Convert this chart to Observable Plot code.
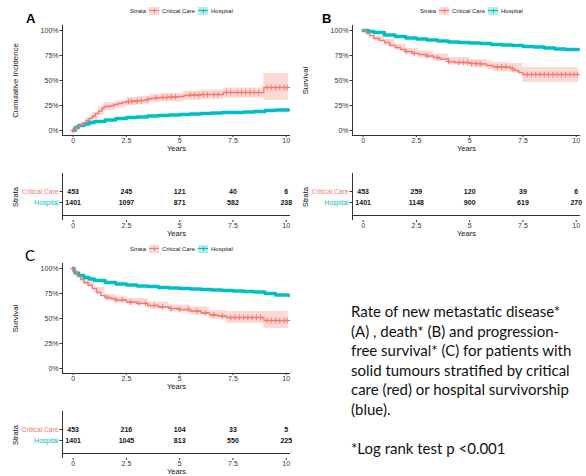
<!DOCTYPE html>
<html><head><meta charset="utf-8">
<script src="https://cdn.jsdelivr.net/npm/d3@7"></script>
<script src="https://cdn.jsdelivr.net/npm/@observablehq/plot@0.6"></script>
<style>
body{margin:0;background:#fff;}
#root{position:relative;width:586px;height:476px;overflow:hidden;font-family:"Liberation Sans",Arial,sans-serif;background:#fff;}
.abs{position:absolute;}
.abs svg{display:block;}
.legend{position:absolute;display:flex;align-items:center;font-size:6px;color:#222;white-space:nowrap;height:9px;}
.sw{display:inline-block;width:10px;height:8px;position:relative;margin:0 3px 0 3px;}
.sw::before{content:"";position:absolute;left:0;right:0;top:3.4px;height:1.2px;background:var(--c);}
.sw::after{content:"";position:absolute;left:4.5px;top:2px;width:1px;height:4px;background:var(--c);}
.letter{position:absolute;font-weight:bold;font-size:13px;line-height:1;}
.letterC{position:absolute;font-family:Lato;font-size:15px;line-height:1;}
.note{position:absolute;left:351px;top:302px;font-family:Lato;font-size:15px;line-height:19.6px;color:#111;white-space:nowrap;}
</style></head>
<body>
<div id="root">
  <div class="abs" id="pA" style="left:0;top:0"></div>
  <div class="abs" id="pB" style="left:290px;top:0"></div>
  <div class="abs" id="tA" style="left:0;top:160px"></div>
  <div class="abs" id="tB" style="left:290px;top:160px"></div>
  <div class="abs" id="pC" style="left:0;top:238px"></div>
  <div class="abs" id="tC" style="left:0;top:398px"></div>
  <div class="letter" style="left:26px;top:12px">A</div>
  <div class="letter" style="left:322px;top:12px">B</div>
  <div class="letterC" style="left:25px;top:248px">C</div>
  <div class="legend" style="left:130px;top:6px">Strata<span class="sw" style="--c:#F8766D;background:rgba(248,118,109,.3)"></span>Critical Care<span class="sw" style="--c:#00BFC4;background:rgba(0,191,196,.3)"></span>Hospital</div>
  <div class="legend" style="left:420px;top:6px">Strata<span class="sw" style="--c:#F8766D;background:rgba(248,118,109,.3)"></span>Critical Care<span class="sw" style="--c:#00BFC4;background:rgba(0,191,196,.3)"></span>Hospital</div>
  <div class="legend" style="left:130px;top:244px">Strata<span class="sw" style="--c:#F8766D;background:rgba(248,118,109,.3)"></span>Critical Care<span class="sw" style="--c:#00BFC4;background:rgba(0,191,196,.3)"></span>Hospital</div>
  <div class="note">Rate of new metastatic disease*<br>(A) , death* (B) and progression-<br>free survival* (C) for patients with<br>solid tumours stratified by critical<br>care (red) or hospital survivorship<br>(blue).<br><br>*Log rank test p &lt;0.001</div>
</div>
<script>
// ---------- data ----------
const strata = ["Critical Care", "Hospital"];
const strataColors = ["#F8766D", "#00BFC4"];
const yearTicks = [0, 2.5, 5, 7.5, 10];
const pctTicks = [0, 25, 50, 75, 100];

// Panel A: cumulative incidence of new metastatic disease (%)
const aCC_t = [0, 0.1, 0.2, 0.3, 0.45, 0.6, 0.75, 0.9, 1.05, 1.2, 1.35, 1.45, 1.7, 1.9, 2.1, 2.3, 2.5, 2.8, 3.1, 3.4, 3.6, 3.8, 4.1, 4.5, 4.9, 5.2, 5.5, 6.0, 6.4, 7.05, 8.95, 10.1];
const aCC_v = [0, 2, 4, 5.5, 7.5, 10, 12, 14.5, 17, 19.5, 22, 24, 24.5, 26, 27, 28, 29, 29.5, 30, 31, 32, 32.5, 33, 33.5, 34, 35, 35.5, 36, 36, 38, 43, 43];
const aBand_t = [0, 0.3, 0.6, 0.9, 1.2, 1.45, 2.0, 2.5, 3.0, 3.6, 4.1, 5.2, 6.0, 7.05, 8.95, 10.1];
const aBand_lo = [0, 3, 7, 11, 15, 20, 22.5, 25, 26, 28, 28.5, 30, 31, 32.5, 30, 30];
const aBand_hi = [0, 8, 13, 18, 24, 28, 29.5, 33, 34, 36, 37, 39.5, 40.5, 42.5, 57, 57];
const aH_t = [0, 0.1, 0.25, 0.5, 0.75, 1, 1.5, 2, 2.5, 3, 3.5, 4, 4.5, 5, 5.5, 6, 6.5, 7, 7.5, 8, 8.5, 9, 9.5, 10.1];
const aH_v = [0, 3, 5, 6.5, 8, 9, 10.5, 12, 13, 13.5, 14.5, 15, 15.5, 16, 16.5, 17, 17.5, 18, 18, 18.5, 19, 20, 20.5, 20.5];
const aCens = [0, 2.6, 2.75, 3.0, 3.2, 3.5, 3.9, 4.2, 4.4, 4.6, 4.8, 5.5, 5.7, 5.9, 6.1, 6.3, 6.6, 6.8, 7.2, 7.4, 7.7, 7.9, 8.1, 8.3, 8.5, 8.7, 9.1, 9.3, 9.5, 9.7, 9.9, 10.05];
const aRiskCC = [453, 245, 121, 40, 6];
const aRiskH = [1401, 1097, 871, 582, 238];

// Panel B: overall survival (%)
const bCC_t = [0, 0.15, 0.3, 0.5, 0.75, 1, 1.25, 1.5, 1.75, 2, 2.3, 2.6, 3, 3.3, 3.6, 4, 4.3, 5, 5.5, 5.8, 6.1, 6.9, 7.1, 7.3, 7.5, 10.1];
const bCC_v = [100, 97, 95, 92, 90, 88, 85, 83, 81, 79, 77, 76, 74.5, 73, 71.5, 69, 68, 67, 66.5, 65, 63.5, 62, 60, 58, 56, 56];
const bBand_t = [0, 0.5, 1, 1.5, 2, 2.6, 3.3, 4, 5, 5.8, 6.1, 6.9, 7.5, 10.1];
const bBand_lo = [100, 89.5, 85, 80, 76, 72.5, 69.5, 65.5, 63, 61, 59, 57.5, 48, 48];
const bBand_hi = [100, 94.5, 91, 86, 82, 79.5, 76.5, 73, 71, 69.5, 68, 67, 63, 63];
const bH_t = [0, 0.25, 0.5, 1, 1.5, 2, 2.5, 3, 3.5, 4, 4.5, 5, 5.5, 6, 6.5, 7, 7.5, 8, 8.5, 9, 9.5, 10.1];
const bH_v = [100, 99, 98, 95.5, 94, 92.5, 91.5, 90.5, 89.5, 88.5, 88, 87.5, 87, 86, 85.5, 85, 84, 83.5, 82.5, 81.5, 81, 81];
const bCens = [2.0, 2.4, 3.0, 3.5, 4.0, 4.5, 4.7, 4.9, 5.1, 5.3, 5.5, 6.3, 6.5, 6.7, 7.0, 7.7, 7.9, 8.1, 8.3, 8.5, 8.7, 8.9, 9.1, 9.3, 9.5, 9.7, 9.9, 10.05];
const bRiskCC = [453, 259, 120, 39, 6];
const bRiskH = [1401, 1148, 900, 619, 270];

// Panel C: progression-free survival (%)
const cCC_t = [0, 0.1, 0.2, 0.35, 0.5, 0.7, 0.9, 1.1, 1.3, 1.5, 1.75, 2, 2.5, 3, 3.5, 4, 4.5, 5, 5.5, 6, 6.4, 6.8, 7.2, 8.95, 10.1];
const cCC_v = [100, 96, 92, 89, 86, 83, 80, 76, 73, 71, 70, 68.5, 66.5, 65, 63, 61.5, 60, 59, 57.5, 55.5, 53.5, 52.5, 51, 48, 48];
const cBand_t = [0, 0.5, 1, 1.5, 2, 2.5, 3.5, 4.5, 5.5, 6.4, 7.2, 8.95, 10.1];
const cBand_lo = [100, 83, 75, 68, 66, 63.5, 59.5, 56.5, 53.5, 49.5, 45, 40, 40];
const cBand_hi = [100, 89, 81, 74, 71.5, 70, 66.5, 63.5, 61.5, 58, 57, 57, 57];
const cH_t = [0, 0.05, 0.1, 0.25, 0.5, 0.75, 1, 1.5, 2, 2.5, 3, 3.5, 4, 4.5, 5, 5.5, 6, 6.5, 7, 7.5, 8, 8.5, 9, 9.5, 10.1];
const cH_v = [100, 97, 95.5, 93, 91, 89.5, 88, 86, 84.5, 83.5, 82.5, 82, 81, 80.5, 80, 79.5, 79, 78.5, 78, 77.5, 77, 76.5, 75, 73.5, 73];
const cCens = [0, 1.6, 2.0, 2.3, 2.7, 3.1, 3.4, 3.8, 4.2, 4.6, 5.0, 5.4, 5.8, 6.2, 6.6, 7.0, 7.4, 7.6, 7.8, 8.0, 8.2, 8.4, 8.6, 8.8, 9.1, 9.3, 9.5, 9.7, 9.9, 10.05];
const cRiskCC = [453, 216, 104, 33, 5];
const cRiskH = [1401, 1045, 813, 550, 225];

// ---------- helpers ----------
const RED = strataColors[0], TEAL = strataColors[1];
const FONT = "'Liberation Sans', Arial, sans-serif";
const X_DOMAIN = [-0.5, 10.2];
const Y_DOMAIN = [-5, 105];
const zip = (t, v) => t.map((x, i) => ({t: x, v: v[i]}));
const band = (t, lo, hi) => t.map((x, i) => ({t: x, lo: lo[i], hi: hi[i]}));
function stepAt(ts, vs, t) { let v = vs[0]; for (let i = 0; i < ts.length; i++) if (ts[i] <= t) v = vs[i]; return v; }
const cens = (c, ts, vs) => c.map(t => ({t, v: stepAt(ts, vs, t)}));

function axesX() {
  return Plot.axisX({ticks: yearTicks, tickFormat: d => String(d), tickSize: 2, tickPadding: 0.5, fontSize: 7, label: null, fill: "#333", stroke: "#333"});
}

function curvePanel(cc, bnd, hosp, cn, ylabel) {
  return Plot.plot({
    width: 296, height: 160,
    marginLeft: 62, marginRight: 6, marginTop: 25, marginBottom: 25,
    style: {fontFamily: FONT, background: "transparent", overflow: "visible", color: "#222"},
    x: {domain: X_DOMAIN},
    y: {domain: Y_DOMAIN},
    marks: [
      Plot.areaY(bnd, {x: "t", y1: "lo", y2: "hi", curve: "step-after", fill: RED, fillOpacity: 0.28}),
      Plot.line(hosp, {x: "t", y: "v", curve: "step-after", stroke: TEAL, strokeWidth: 3.5}),
      Plot.line(cc, {x: "t", y: "v", curve: "step-after", stroke: RED, strokeWidth: 1.4}),
      Plot.dot(cn, {x: "t", y: "v", symbol: "plus", r: 2, stroke: RED, strokeWidth: 1}),
      Plot.ruleX([X_DOMAIN[0]], {stroke: "#333", strokeWidth: 1}),
      Plot.ruleY([Y_DOMAIN[0]], {stroke: "#333", strokeWidth: 1}),
      axesX(),
      Plot.axisY({ticks: pctTicks, tickFormat: d => d + "%", tickSize: 2.5, tickPadding: 1.5, fontSize: 7, label: null, fill: "#333", stroke: "#333"}),
      Plot.text(["Years"], {text: d => d, frameAnchor: "bottom", dy: 15, fontSize: 7.5, fill: "#111"}),
      Plot.text([ylabel], {text: d => d, frameAnchor: "left", textAnchor: "middle", dx: -47, rotate: -90, fontSize: 7.8, fill: "#111"})
    ]
  });
}

function riskTable(ccN, hN) {
  const rows = [
    ...ccN.map((n, i) => ({t: yearTicks[i], s: strata[0], n})),
    ...hN.map((n, i) => ({t: yearTicks[i], s: strata[1], n}))
  ];
  return Plot.plot({
    width: 296, height: 82,
    marginLeft: 62, marginRight: 6, marginTop: 13, marginBottom: 22,
    style: {fontFamily: FONT, background: "transparent", overflow: "visible", color: "#222"},
    x: {domain: X_DOMAIN},
    y: {type: "point", domain: strata, range: [25, 47]},
    color: {domain: strata, range: strataColors},
    marks: [
      Plot.text(rows, {x: "t", y: "s", text: d => String(d.n), fontSize: 7, fontWeight: "bold", fill: "#111"}),
      Plot.ruleX([X_DOMAIN[0]], {stroke: "#333", strokeWidth: 1}),
      Plot.ruleY([strata[1]], {stroke: "#333", strokeWidth: 1, dy: 13}),
      axesX(),
      Plot.axisY({tickSize: 2.5, tickFormat: () => "", label: null, stroke: "#333"}),
      Plot.text(strata, {y: d => d, text: d => d, frameAnchor: "left", textAnchor: "end", dx: -4, fontSize: 6.7, fill: d => d}),
      Plot.text(["Years"], {text: d => d, frameAnchor: "bottom", dy: 15, fontSize: 7.5, fill: "#111"}),
      Plot.text(["Strata"], {text: d => d, frameAnchor: "left", textAnchor: "middle", dx: -47, rotate: -90, fontSize: 7.5, fill: "#111"})
    ]
  });
}

document.getElementById("pA").append(curvePanel(zip(aCC_t, aCC_v), band(aBand_t, aBand_lo, aBand_hi), zip(aH_t, aH_v), cens(aCens, aCC_t, aCC_v), "Cumulative Incidence"));
document.getElementById("pB").append(curvePanel(zip(bCC_t, bCC_v), band(bBand_t, bBand_lo, bBand_hi), zip(bH_t, bH_v), cens(bCens, bCC_t, bCC_v), "Survival"));
document.getElementById("pC").append(curvePanel(zip(cCC_t, cCC_v), band(cBand_t, cBand_lo, cBand_hi), zip(cH_t, cH_v), cens(cCens, cCC_t, cCC_v), "Survival"));
document.getElementById("tA").append(riskTable(aRiskCC, aRiskH));
document.getElementById("tB").append(riskTable(bRiskCC, bRiskH));
document.getElementById("tC").append(riskTable(cRiskCC, cRiskH));
</script>
</body></html>
